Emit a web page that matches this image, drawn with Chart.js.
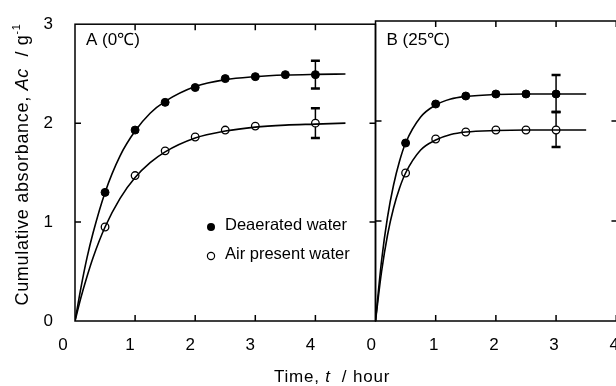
<!DOCTYPE html>
<html>
<head>
<meta charset="utf-8">
<script src="https://cdn.jsdelivr.net/npm/chart.js@4.4.1/dist/chart.umd.min.js"></script>
<style>
    html, body { margin: 0; padding: 0; background: #fff; }
    #wrap { position: relative; width: 616px; height: 386px; overflow: hidden; }
    #wrap canvas { position: absolute; left: 0; top: 0; }
</style>
</head>
<body>
<div id="wrap">
    <canvas id="chartA" width="616" height="386" style="width:616px;height:386px"></canvas>
    <canvas id="chartB" width="627" height="386" style="width:627px;height:386px"></canvas>
</div>
<script>
// tick values
const xTickValues = [0, 1, 2, 3, 4];
const yTickValues = [0, 1, 2, 3];

// Panel A (0 C) measured points
const deaerHoursA = [0.5, 1, 1.5, 2, 2.5, 3, 3.5, 4];
const deaerA = [1.30, 1.93, 2.21, 2.36, 2.45, 2.47, 2.49, 2.49];
const airHoursA = [0.5, 1, 1.5, 2, 2.5, 3, 4];
const airA = [0.95, 1.47, 1.72, 1.86, 1.93, 1.97, 2.00];

// Panel A fitted curves
const curveHoursA = [0, 0.1, 0.2, 0.3, 0.5, 0.75, 1, 1.25, 1.5, 2, 2.5, 3, 3.5, 4, 4.5];
const deaerCurveA = [0, 0.34, 0.64, 0.89, 1.30, 1.67, 1.92, 2.10, 2.22, 2.37, 2.44, 2.47, 2.486, 2.493, 2.497];
const airCurveA = [0, 0.24, 0.45, 0.64, 0.95, 1.24, 1.45, 1.60, 1.71, 1.85, 1.92, 1.96, 1.98, 1.99, 2.00];

// Panel B (25 C) measured points
const hoursB = [0.5, 1, 1.5, 2, 2.5, 3];
const deaerB = [1.78, 2.17, 2.25, 2.27, 2.27, 2.27];
const airB = [1.48, 1.82, 1.89, 1.91, 1.91, 1.91];

// Panel B fitted curves
const curveHoursB = [0, 0.1, 0.2, 0.3, 0.4, 0.5, 0.75, 1, 1.25, 1.5, 2, 2.5, 3, 3.5];
const deaerCurveB = [0, 0.60, 1.04, 1.36, 1.60, 1.78, 2.04, 2.16, 2.22, 2.245, 2.265, 2.27, 2.27, 2.27];
const airCurveB = [0, 0.49, 0.86, 1.13, 1.33, 1.48, 1.71, 1.81, 1.865, 1.89, 1.905, 1.91, 1.91, 1.91];

// error bars: [hour, low, high]
const errorsA = [[4, 2.35, 2.63], [4, 1.85, 2.15]];
const errorsB = [[3, 2.09, 2.46], [3, 1.74, 2.09]];

const FONT = '"Liberation Sans", Arial, Helvetica, sans-serif';
Chart.defaults.font.family = FONT;
Chart.defaults.color = '#000';

function pts(xs, ys) {
    return xs.map((x, i) => ({ x: x, y: ys[i] }));
}

function drawSegments(ctx, segs, cx, cy, size) {
    // measure, then draw centred at cx
    let total = 0;
    segs.forEach(s => {
        ctx.font = (s.italic ? 'italic ' : '') + (s.sup ? size * 0.6 : size) + 'px ' + FONT;
        s.w = ctx.measureText(s.text).width;
        total += s.w;
    });
    let x = cx - total / 2;
    segs.forEach(s => {
        ctx.font = (s.italic ? 'italic ' : '') + (s.sup ? size * 0.6 : size) + 'px ' + FONT;
        ctx.fillText(s.text, x, s.sup ? cy - size * 0.35 : cy);
        x += s.w;
    });
}

const framePlugin = {
    id: 'frame',
    beforeDatasetsDraw(chart, args, opts) {
        const { ctx, scales: { x, y } } = chart;
        ctx.save();
        ctx.strokeStyle = '#000';
        (opts.errors || []).forEach(e => {
            const px = x.getPixelForValue(e[0]);
            const lo = y.getPixelForValue(e[1]);
            const hi = y.getPixelForValue(e[2]);
            ctx.lineWidth = 1.5;
            ctx.beginPath();
            ctx.moveTo(px, lo); ctx.lineTo(px, hi);
            ctx.stroke();
            ctx.lineWidth = 2.5;
            ctx.beginPath();
            ctx.moveTo(px - 4.5, lo); ctx.lineTo(px + 4.5, lo);
            ctx.moveTo(px - 4.5, hi); ctx.lineTo(px + 4.5, hi);
            ctx.stroke();
        });
        ctx.restore();
    },
    afterDraw(chart, args, opts) {
        const { ctx, chartArea: a, scales: { x, y } } = chart;
        const T = 6;
        ctx.save();
        ctx.strokeStyle = '#000';
        ctx.lineWidth = 1.5;
        ctx.strokeRect(a.left, a.top, a.right - a.left, a.bottom - a.top);
        ctx.beginPath();
        x.ticks.forEach(t => {
            if (t.value <= x.min || t.value >= x.max) return;
            const px = x.getPixelForValue(t.value);
            ctx.moveTo(px, a.bottom); ctx.lineTo(px, a.bottom - T);
            ctx.moveTo(px, a.top); ctx.lineTo(px, a.top + T);
        });
        y.ticks.forEach(t => {
            if (t.value <= y.min || t.value >= y.max) return;
            const py = y.getPixelForValue(t.value);
            ctx.moveTo(a.left, py); ctx.lineTo(a.left + T, py);
            ctx.moveTo(a.right, py); ctx.lineTo(a.right - T, py);
        });
        ctx.stroke();

        ctx.fillStyle = '#000';
        ctx.textBaseline = 'middle';
        ctx.textAlign = 'left';
        ctx.font = '17px ' + FONT;
        ctx.fillText(opts.label, a.left + 11, 40);

        if (opts.extras) {
            // legend
            ctx.font = '16.5px ' + FONT;
            ctx.beginPath();
            ctx.arc(211, 227, 4, 0, Math.PI * 2);
            ctx.fill();
            ctx.fillText('Deaerated water', 225, 225.5);
            ctx.beginPath();
            ctx.arc(211, 256, 3.6, 0, Math.PI * 2);
            ctx.fillStyle = '#fff';
            ctx.fill();
            ctx.lineWidth = 1.2;
            ctx.stroke();
            ctx.fillStyle = '#000';
            ctx.fillText('Air present water', 225, 254.5);

            ctx.textAlign = 'left';
            ctx.letterSpacing = '0.8px';
            drawSegments(ctx, [
                { text: 'Time, ' }, { text: 't', italic: true }, { text: '  / hour' }
            ], 332, 377, 17);

            ctx.save();
            ctx.translate(23, 164.5);
            ctx.rotate(-Math.PI / 2);
            ctx.letterSpacing = '0.7px';
            drawSegments(ctx, [
                { text: 'Cumulative absorbance, ' }, { text: 'Ac', italic: true },
                { text: '  / g' }, { text: '-1', sup: true }
            ], 0, 0, 18);
            ctx.restore();
            ctx.letterSpacing = '0px';
        }
        ctx.restore();
    }
};

function panelConfig(p) {
    return {
        type: 'scatter',
        data: {
            datasets: [
                { data: pts(p.curveX, p.deaerCurve), showLine: true, pointRadius: 0, borderColor: '#000',
                  borderWidth: 1.6, cubicInterpolationMode: 'monotone' },
                { data: pts(p.curveX, p.airCurve), showLine: true, pointRadius: 0, borderColor: '#000',
                  borderWidth: 1.6, cubicInterpolationMode: 'monotone' },
                { data: pts(p.deaerX, p.deaer), pointRadius: 4, pointBackgroundColor: '#000',
                  pointBorderColor: '#000', pointBorderWidth: 1 },
                { data: pts(p.airX, p.air), pointRadius: 3.8, pointBackgroundColor: '#fff',
                  pointBorderColor: '#000', pointBorderWidth: 1.3 }
            ]
        },
        options: {
            responsive: false,
            animation: false,
            events: [],
            layout: { padding: { top: 21, right: p.padRight, bottom: 0, left: 0 }, autoPadding: false },
            plugins: {
                legend: { display: false },
                tooltip: { enabled: false },
                frame: { label: p.label, errors: p.errors, extras: p.extras }
            },
            scales: {
                x: {
                    type: 'linear', min: 0, max: p.xMax,
                    grid: { display: false }, border: { display: false },
                    afterBuildTicks: s => { s.ticks = xTickValues.map(v => ({ value: v })); },
                    afterFit: s => { s.height = 65; },
                    ticks: {
                        autoSkip: false, maxRotation: 0, padding: 6, labelOffset: p.labelShift,
                        color: '#000', font: { size: 17 },
                        callback: v => v === 0 ? p.zeroLabel : String(v)
                    }
                },
                y: {
                    type: 'linear', min: 0, max: 3,
                    grid: { display: false }, border: { display: false },
                    afterBuildTicks: s => { s.ticks = yTickValues.map(v => ({ value: v })); },
                    afterFit: s => { s.width = p.yWidth; },
                    ticks: { display: p.showY, padding: 14, color: '#000', font: { size: 17 } }
                }
            }
        },
        plugins: [framePlugin]
    };
}

new Chart(document.getElementById('chartA'), panelConfig({
    curveX: curveHoursA, deaerCurve: deaerCurveA, airCurve: airCurveA,
    deaerX: deaerHoursA, deaer: deaerA, airX: airHoursA, air: airA,
    errors: errorsA, label: 'A (0\u2103)', extras: true,
    xMax: 5, yWidth: 75, padRight: 240.5, labelShift: -5, zeroLabel: '0   ', showY: true
}));

new Chart(document.getElementById('chartB'), panelConfig({
    curveX: curveHoursB, deaerCurve: deaerCurveB, airCurve: airCurveB,
    deaerX: hoursB, deaer: deaerB, airX: hoursB, air: airB,
    errors: errorsB, label: 'B (25\u2103)', extras: false,
    xMax: 4.02, yWidth: 375.5, padRight: 3, labelShift: -2, zeroLabel: '0 ', showY: false
}));
</script>
</body>
</html>
